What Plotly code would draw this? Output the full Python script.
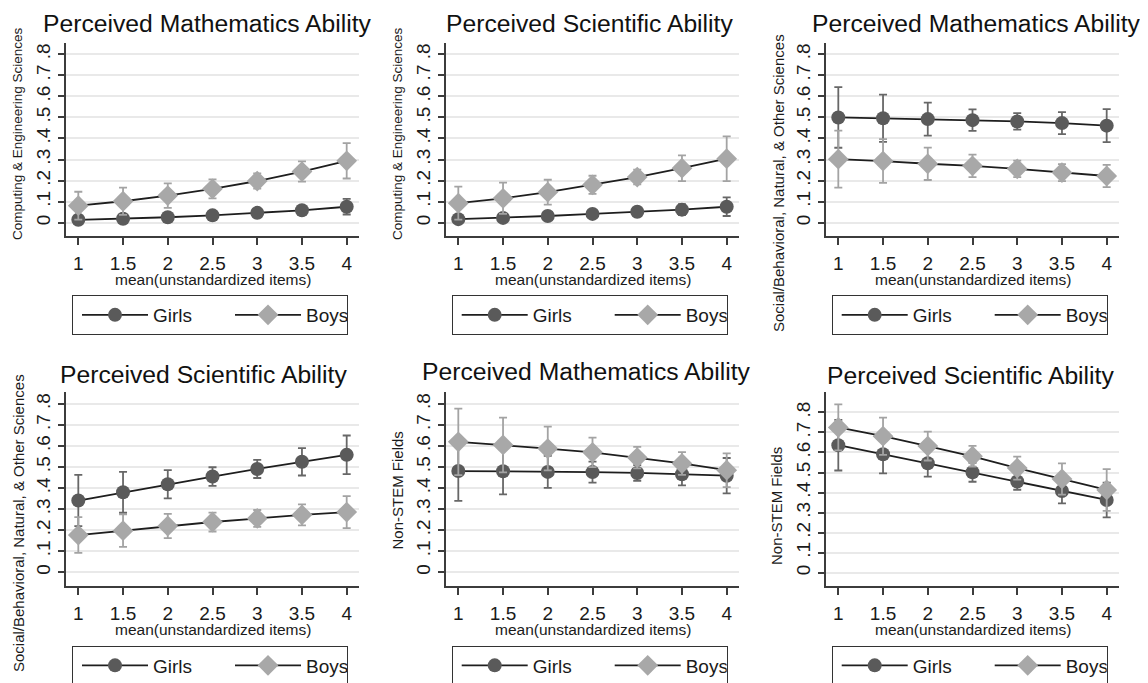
import plotly.graph_objects as go
from plotly.subplots import make_subplots

# ---------------- data ----------------
x_vals = [1, 1.5, 2, 2.5, 3, 3.5, 4]
x_ticktext = ["1", "1.5", "2", "2.5", "3", "3.5", "4"]
y_tickvals = [0, 0.1, 0.2, 0.3, 0.4, 0.5, 0.6, 0.7, 0.8]
y_ticktext = ["0", ".1", ".2", ".3", ".4", ".5", ".6", ".7", ".8"]

panel_titles = ["Perceived Mathematics Ability", "Perceived Scientific Ability",
                "Perceived Mathematics Ability", "Perceived Scientific Ability",
                "Perceived Mathematics Ability", "Perceived Scientific Ability"]
y_titles = ["Computing & Engineering Sciences", "Computing & Engineering Sciences",
            "Social/Behavioral, Natural, & Other Sciences",
            "Social/Behavioral, Natural, & Other Sciences",
            "Non-STEM Fields", "Non-STEM Fields"]
x_title = "mean(unstandardized items)"
series_names = ["Girls", "Boys"]

# Panel 1: Computing & Engineering, math
ces_math_girls = [0.014, 0.019, 0.026, 0.035, 0.047, 0.059, 0.076]
ces_math_girls_ci = [0.008, 0.008, 0.008, 0.009, 0.011, 0.018, 0.037]
ces_math_boys = [0.081, 0.102, 0.129, 0.161, 0.198, 0.243, 0.294]
ces_math_boys_ci = [0.066, 0.065, 0.058, 0.045, 0.036, 0.048, 0.084]
# Panel 2: Computing & Engineering, science
ces_sci_girls = [0.017, 0.023, 0.032, 0.042, 0.052, 0.062, 0.076]
ces_sci_girls_ci = [0.012, 0.012, 0.011, 0.010, 0.012, 0.026, 0.044]
ces_sci_boys = [0.093, 0.116, 0.145, 0.180, 0.217, 0.259, 0.304]
ces_sci_boys_ci = [0.078, 0.074, 0.059, 0.043, 0.035, 0.061, 0.106]
# Panel 3: Social/Behavioral..., math
sbn_math_girls = [0.500, 0.496, 0.492, 0.487, 0.481, 0.473, 0.461]
sbn_math_girls_ci = [0.144, 0.112, 0.078, 0.051, 0.039, 0.052, 0.078]
sbn_math_boys = [0.302, 0.293, 0.280, 0.270, 0.256, 0.238, 0.222]
sbn_math_boys_ci = [0.135, 0.104, 0.077, 0.053, 0.039, 0.040, 0.053]
# Panel 4: Social/Behavioral..., science
sbn_sci_girls = [0.341, 0.380, 0.418, 0.455, 0.491, 0.525, 0.558]
sbn_sci_girls_ci = [0.122, 0.097, 0.067, 0.044, 0.043, 0.065, 0.092]
sbn_sci_boys = [0.177, 0.198, 0.220, 0.239, 0.256, 0.273, 0.286]
sbn_sci_boys_ci = [0.085, 0.077, 0.058, 0.045, 0.040, 0.050, 0.076]
# Panel 5: Non-STEM, math
non_math_girls = [0.481, 0.480, 0.477, 0.476, 0.472, 0.466, 0.459]
non_math_girls_ci = [0.142, 0.110, 0.076, 0.050, 0.037, 0.053, 0.084]
non_math_boys = [0.620, 0.605, 0.588, 0.570, 0.545, 0.517, 0.485]
non_math_boys_ci = [0.158, 0.130, 0.104, 0.070, 0.051, 0.054, 0.080]
# Panel 6: Non-STEM, science
non_sci_girls = [0.636, 0.591, 0.546, 0.501, 0.455, 0.408, 0.363]
non_sci_girls_ci = [0.126, 0.095, 0.067, 0.047, 0.041, 0.062, 0.087]
non_sci_boys = [0.725, 0.681, 0.632, 0.581, 0.522, 0.468, 0.413]
non_sci_boys_ci = [0.115, 0.093, 0.072, 0.052, 0.057, 0.078, 0.104]

panels = [
    (ces_math_girls, ces_math_girls_ci, ces_math_boys, ces_math_boys_ci),
    (ces_sci_girls, ces_sci_girls_ci, ces_sci_boys, ces_sci_boys_ci),
    (sbn_math_girls, sbn_math_girls_ci, sbn_math_boys, sbn_math_boys_ci),
    (sbn_sci_girls, sbn_sci_girls_ci, sbn_sci_boys, sbn_sci_boys_ci),
    (non_math_girls, non_math_girls_ci, non_math_boys, non_math_boys_ci),
    (non_sci_girls, non_sci_girls_ci, non_sci_boys, non_sci_boys_ci),
]

# ---------------- layout geometry (pixels in the 1148x683 page) ----------------
PAGE_OFF = 8              # default body margin of the html page
W, H = 1140, 675          # figure size so that figure + body margin fills the window
FONT = "Liberation Sans, Arial, Helvetica, sans-serif"
col_px = [(65.7, 359.3), (445.7, 739.3), (825.7, 1119.3)]
row_px = [(43.3, 236.0), (391.7, 586.0)]
y_ranges = [[-0.063, 0.852], [-0.063, 0.852], [-0.063, 0.852],
            [-0.065, 0.858], [-0.065, 0.858], [-0.066, 0.903]]
x_range = [0.859, 4.141]

title_pos = [(207.5, 24), (589, 24), (976.5, 24), (203, 374), (586.5, 371), (970, 375)]
ytitle_pos = [(18, 134, "middle", 13.5), (398, 134, "middle", 13.5), (778, 32, "top", 15),
              (18, 372, "top", 15), (397.5, 491, "middle", 15), (776, 506, "middle", 15)]
xtitle_y = [278, 628]
legend_pos = [(72, 295), (451.7, 295), (831.7, 295), (72, 645.5), (451.7, 645.5), (831.7, 645.5)]
legend_entry_px = [68, 36]

GIRL_COL = "#5a5a5a"
BOY_COL = "#a8a8a8"
GIRL_ERR = "#676767"
BOY_ERR = "#a3a3a3"
LINE_COL = "#1e1e1e"
AXIS_COL = "#3c3c3c"


def px_x(v):
    return (v - PAGE_OFF) / W


def px_y(v):
    return 1 - (v - PAGE_OFF) / H


fig = make_subplots(rows=2, cols=3)

for i, (g, gci, b, bci) in enumerate(panels):
    r, c = i // 3 + 1, i % 3 + 1
    leg = "legend" if i == 0 else f"legend{i+1}"
    fig.add_trace(go.Scatter(
        x=x_vals, y=g, name=series_names[0], mode="lines+markers",
        line=dict(color=LINE_COL, width=1.8),
        marker=dict(symbol="circle", size=14, color=GIRL_COL),
        error_y=dict(type="data", array=gci, color=GIRL_ERR, thickness=1.8, width=4),
        legend=leg, legendwidth=legend_entry_px[0], showlegend=True), row=r, col=c)
    fig.add_trace(go.Scatter(
        x=x_vals, y=b, name=series_names[1], mode="lines+markers",
        line=dict(color=LINE_COL, width=1.8),
        marker=dict(symbol="diamond", size=16, color=BOY_COL),
        error_y=dict(type="data", array=bci, color=BOY_ERR, thickness=1.8, width=4),
        legend=leg, legendwidth=legend_entry_px[1], showlegend=True), row=r, col=c)

    rr = (i // 3)
    x0, x1 = col_px[i % 3]
    y0, y1 = row_px[rr]
    axn = "" if i == 0 else str(i + 1)
    fig.update_layout({
        f"xaxis{axn}": dict(domain=[px_x(x0), px_x(x1)], range=x_range,
                            tickvals=x_vals, ticktext=x_ticktext,
                            showgrid=False, zeroline=False, showline=True,
                            linecolor=AXIS_COL, linewidth=1.5, ticks="outside",
                            ticklen=7, tickwidth=1.5, tickcolor=AXIS_COL,
                            ticklabelstandoff=2,
                            tickfont=dict(size=19, color="#1a1a1a", family=FONT)),
        f"yaxis{axn}": dict(domain=[px_y(y1), px_y(y0)], range=y_ranges[i],
                            tickvals=y_tickvals, ticktext=y_ticktext,
                            tickangle=-90, showgrid=True, gridcolor="#e9e9e9",
                            gridwidth=1.5, zeroline=False, showline=True,
                            linecolor=AXIS_COL, linewidth=1.5, ticks="outside",
                            ticklen=6, tickwidth=1.5, tickcolor=AXIS_COL,
                            tickfont=dict(size=19, color="#1a1a1a", family=FONT)),
        leg: dict(x=px_x(legend_pos[i][0]), y=px_y(legend_pos[i][1]),
                  xanchor="left", yanchor="top", orientation="h",
                  bordercolor="#333333", borderwidth=1, bgcolor="white",
                  font=dict(size=19, color="#1a1a1a", family=FONT),
                  itemwidth=66, indentation=4,
                  itemclick=False, itemdoubleclick=False),
    })

annotations = []
for i in range(6):
    tx, ty = title_pos[i]
    annotations.append(dict(text=panel_titles[i], x=px_x(tx), y=px_y(ty), xref="paper", yref="paper",
                            xanchor="center", yanchor="middle", showarrow=False,
                            font=dict(size=24.7, color="#111111", family=FONT)))
    yx, yy, anch, fs = ytitle_pos[i]
    annotations.append(dict(text=y_titles[i], x=px_x(yx), y=px_y(yy), xref="paper", yref="paper",
                            xanchor="center", yanchor=anch, textangle=-90, showarrow=False,
                            font=dict(size=fs, color="#1a1a1a", family=FONT)))
    x0, x1 = col_px[i % 3]
    annotations.append(dict(text=x_title, x=px_x((x0 + x1) / 2), y=px_y(xtitle_y[i // 3] + 1),
                            xref="paper", yref="paper", xanchor="center", yanchor="middle",
                            showarrow=False, font=dict(size=15.5, color="#1a1a1a", family=FONT)))

fig.update_layout(
    width=W, height=H, margin=dict(l=0, r=0, t=0, b=0, autoexpand=False),
    paper_bgcolor="white", plot_bgcolor="white",
    font=dict(family=FONT, color="#1a1a1a"),
    annotations=annotations,
)

fig.write_html("out.html")
